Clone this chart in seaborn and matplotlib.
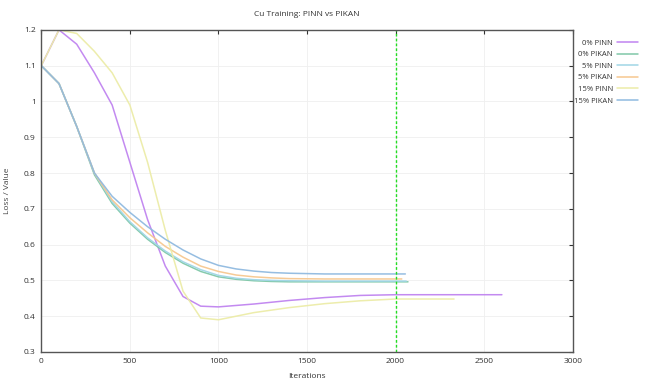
import pandas as pd
import matplotlib
matplotlib.use("Agg")
import matplotlib.pyplot as plt
import seaborn as sns

# curves
pinn0_x = [0, 100, 200, 300, 400, 500, 600, 700, 800, 900, 1000, 1200, 1400, 1600, 1800, 2000, 2600]
pinn0_y = [1.1, 1.2, 1.16, 1.08, 0.99, 0.83, 0.67, 0.54, 0.455, 0.428, 0.426, 0.434, 0.444, 0.452, 0.458, 0.46, 0.46]

pikan0_x = [0, 100, 200, 300, 400, 500, 600, 700, 800, 900, 1000, 1100, 1200, 1300, 1400, 1600, 2070]
pikan0_y = [1.1, 1.05, 0.93, 0.795, 0.715, 0.66, 0.615, 0.578, 0.548, 0.525, 0.51, 0.503, 0.499, 0.497, 0.496, 0.496, 0.496]

pinn5_x = [0, 100, 200, 300, 400, 500, 600, 700, 800, 900, 1000, 1100, 1200, 1300, 1400, 1600, 2060]
pinn5_y = [1.1, 1.05, 0.93, 0.8, 0.72, 0.664, 0.619, 0.582, 0.552, 0.53, 0.514, 0.506, 0.502, 0.5, 0.499, 0.498, 0.498]

pikan5_x = [0, 100, 200, 300, 400, 500, 600, 700, 800, 900, 1000, 1100, 1200, 1300, 1400, 1600, 2035]
pikan5_y = [1.1, 1.05, 0.93, 0.8, 0.725, 0.675, 0.633, 0.595, 0.565, 0.54, 0.525, 0.515, 0.51, 0.507, 0.505, 0.504, 0.504]

pinn15_x = [0, 100, 200, 300, 400, 500, 600, 700, 800, 900, 1000, 1200, 1400, 1600, 1800, 2000, 2330]
pinn15_y = [1.1, 1.2, 1.19, 1.14, 1.08, 0.99, 0.83, 0.64, 0.47, 0.395, 0.39, 0.41, 0.424, 0.435, 0.443, 0.448, 0.448]

pikan15_x = [0, 100, 200, 300, 400, 500, 600, 700, 800, 900, 1000, 1100, 1200, 1300, 1400, 1600, 2055]
pikan15_y = [1.1, 1.05, 0.93, 0.8, 0.735, 0.69, 0.65, 0.615, 0.585, 0.56, 0.542, 0.532, 0.526, 0.522, 0.52, 0.518, 0.518]

labels = ["0% PINN", "0% PIKAN", "5% PINN", "5% PIKAN", "15% PINN", "15% PIKAN"]
colors = ["#c084f0", "#80c8a8", "#a0d6e6", "#f6c890", "#ecec a8".replace(" ", ""), "#90bae0"]
series = [(pinn0_x, pinn0_y), (pikan0_x, pikan0_y), (pinn5_x, pinn5_y),
          (pikan5_x, pikan5_y), (pinn15_x, pinn15_y), (pikan15_x, pikan15_y)]

rows = []
for lab, (xs, ys) in zip(labels, series):
    for x, y in zip(xs, ys):
        rows.append({"Iterations": x, "value": y, "run": lab})
df = pd.DataFrame(rows)

sns.set_style("white")
plt.rcParams["font.family"] = ["Open Sans", "DejaVu Sans"]

fig = plt.figure(figsize=(6.45, 3.83), dpi=100)
ax = fig.add_axes([0.064, 0.081, 0.824, 0.841])

sns.lineplot(data=df, x="Iterations", y="value", hue="run", hue_order=labels,
             palette=colors, linewidth=1.1, alpha=0.95, sort=False,
             estimator=None, ax=ax, legend=False)

ax.axvline(2000, color="#22dd22", linestyle=(0, (2, 1.5)), linewidth=1.0)

ax.set_xlim(0, 3000)
ax.set_ylim(0.3, 1.2)
ax.set_xticks([0, 500, 1000, 1500, 2000, 2500, 3000])
ax.set_yticks([0.3, 0.4, 0.5, 0.6, 0.7, 0.8, 0.9, 1.0, 1.1, 1.2])
ax.set_yticklabels(["0.3", "0.4", "0.5", "0.6", "0.7", "0.8", "0.9", "1", "1.1", "1.2"])
ax.grid(True, color="#efefef", linewidth=0.6)
ax.tick_params(direction="in", length=3, labelsize=6, colors="#333333",
               top=True, right=True, pad=4)
for s in ax.spines.values():
    s.set_color("#555555")
    s.set_linewidth(1.0)

ax.set_xlabel("Iterations", fontsize=6, color="#333333", labelpad=6)
ax.set_ylabel("Loss / Value", fontsize=6, color="#444444", labelpad=9)
ax.set_title("Cu Training: PINN vs PIKAN", fontsize=6, color="#333333", pad=10)

handles = [plt.Line2D([], [], color=c, linewidth=1.1) for c in colors]
fig.legend(handles, labels, loc="upper right", bbox_to_anchor=(1.0, 0.915),
           frameon=False, fontsize=5.5, markerfirst=False, handlelength=2.8,
           labelspacing=0.55, handletextpad=0.5, labelcolor="#333333")

fig.savefig("out.png", dpi=100)
